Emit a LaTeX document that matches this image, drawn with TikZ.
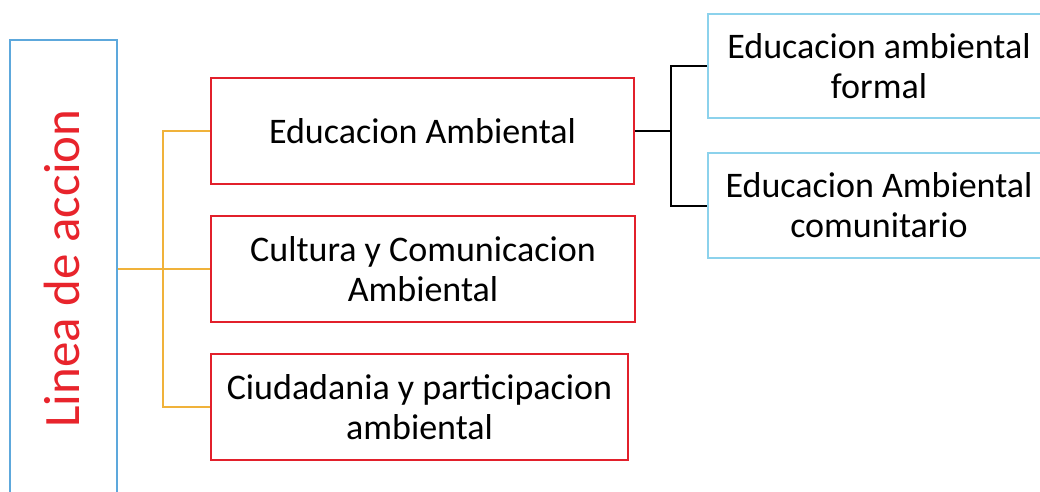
\documentclass[tikz,border=0pt]{standalone}
\usepackage{fontspec}
\setmainfont{Carlito}
\definecolor{redline}{HTML}{E2202B}
\definecolor{redtext}{HTML}{E8242C}
\definecolor{leftblue}{HTML}{5DA8DC}
\definecolor{rightblue}{HTML}{8CD2EC}
\definecolor{yel}{HTML}{F0B23A}
\begin{document}
\begin{tikzpicture}[x=1pt,y=-1pt,
  redbox/.style={draw=redline,line width=2pt,minimum width=#1,minimum height=106pt,align=center,inner sep=0pt,font=\fontsize{36}{40}\selectfont},
  cyanbox/.style={draw=rightblue,line width=2pt,minimum width=342pt,minimum height=104pt,align=center,inner sep=0pt,font=\fontsize{36}{40}\selectfont},
  yconn/.style={draw=yel,line width=2pt},
  bconn/.style={draw=black,line width=2pt}]
\useasboundingbox (0,0) rectangle (1040,491);
\fill[white] (0,0) rectangle (1040,491);
\node[draw=leftblue,line width=2.5pt,minimum width=107pt,minimum height=465pt,inner sep=0pt] (L) at (63.5,272.5) {};
\node[rotate=90,text=redtext,inner sep=0pt,font=\fontsize{51}{56}\selectfont] (Lt) at (62,268.5) {Linea de accion};
\node[redbox=423pt] (B1) at (422.5,131) {Educacion Ambiental};
\node[redbox=424pt] (B2) at (423,269) {Cultura y Comunicacion\\Ambiental};
\node[redbox=417pt] (B3) at (419.5,407) {Ciudadania y participacion\\ambiental};
\node[cyanbox] (R1) at (879,66) {Educacion ambiental\\formal};
\node[cyanbox,minimum height=105pt] (R2) at (879,205.5) {Educacion Ambiental\\comunitario};
\coordinate (jy) at (163,269);
\coordinate (jb) at (671,131);
\draw[yconn] (L.east |- B2.west) -- (B2.west);
\draw[yconn] (B1.west) -| (jy) |- (B3.west);
\draw[bconn] (B1.east) -- (jb);
\draw[bconn] (R1.west) -| (jb) |- (R2.west);
\end{tikzpicture}
\end{document}
